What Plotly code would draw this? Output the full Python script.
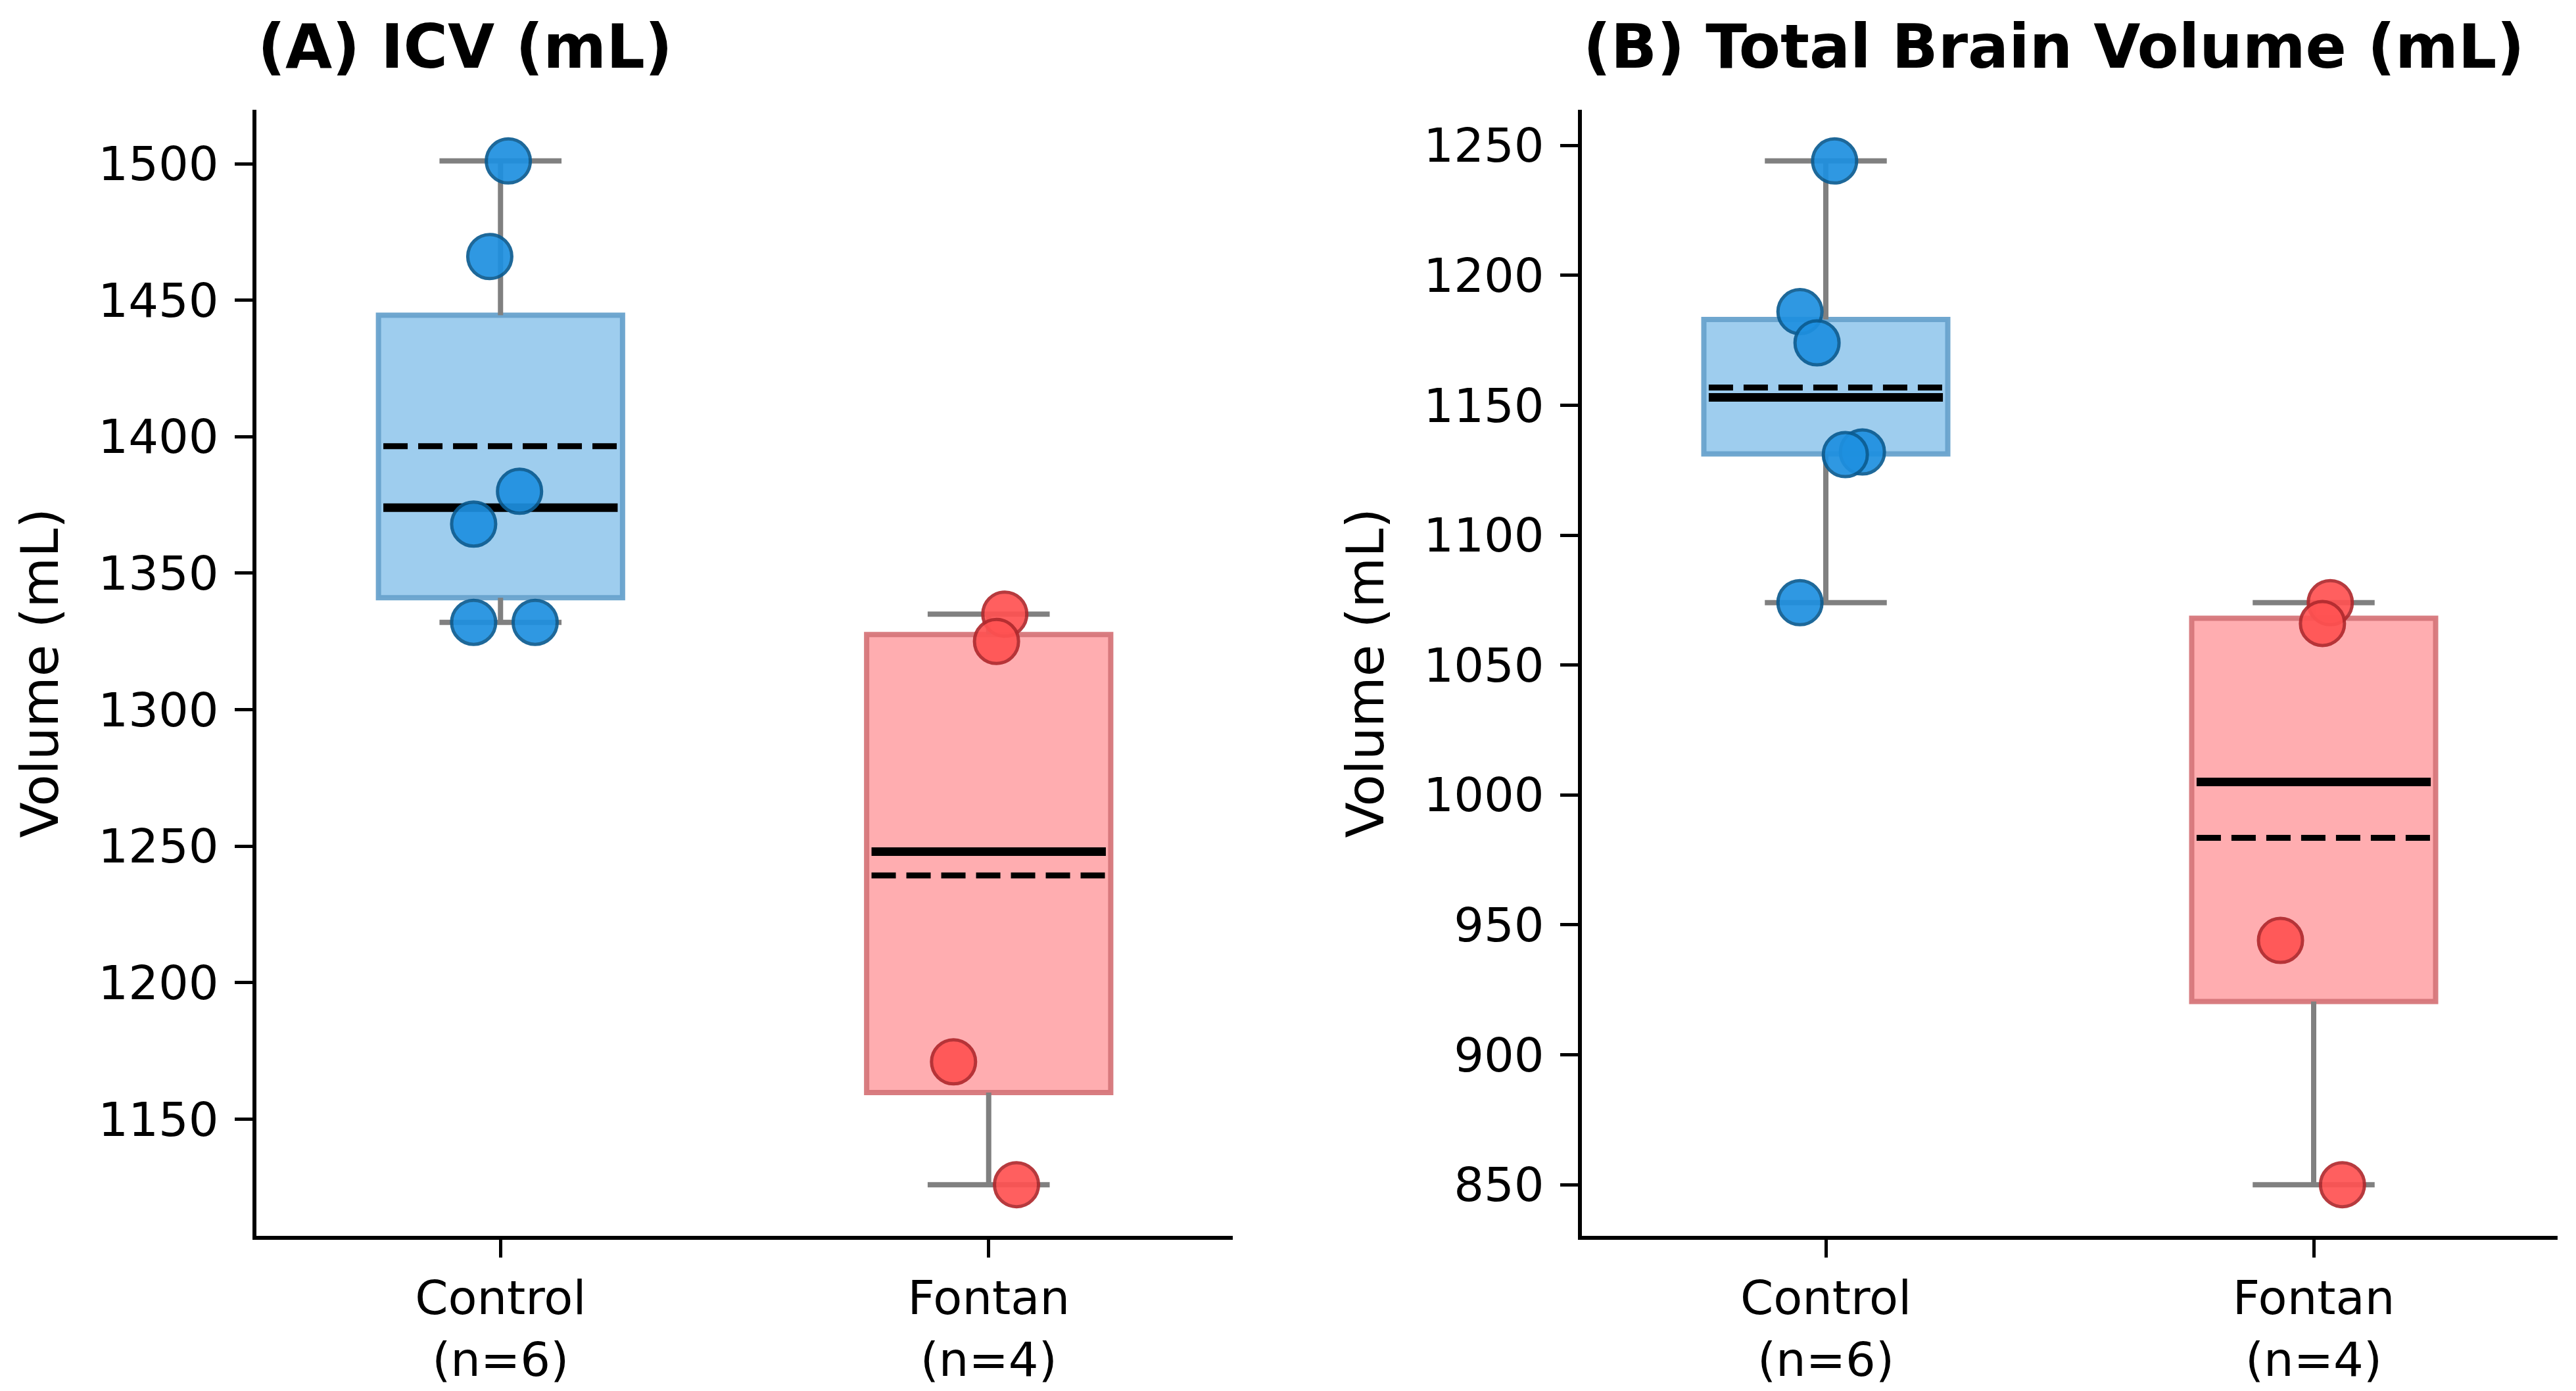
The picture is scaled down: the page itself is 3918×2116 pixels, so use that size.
import numpy as np
import plotly.graph_objects as go

# ---------------- data ----------------
groups = ["Control", "Fontan"]
group_labels = ["Control<br>(n=6)", "Fontan<br>(n=4)"]

icv_control = [1501, 1466, 1380, 1368, 1332, 1332]
icv_fontan = [1335, 1325, 1171, 1126]
tbv_control = [1244, 1186, 1174, 1132, 1131, 1074]
tbv_fontan = [1074, 1066, 944, 850]

# horizontal jitter of the individual points (category units)
icv_control_jitter = [0.016, -0.022, 0.039, -0.055, -0.055, 0.071]
icv_fontan_jitter = [0.033, 0.016, -0.072, 0.057]
tbv_control_jitter = [0.018, -0.053, -0.018, 0.075, 0.040, -0.053]
tbv_fontan_jitter = [0.034, 0.018, -0.068, 0.059]

panel_titles = ["(A) ICV (mL)", "(B) Total Brain Volume (mL)"]
y_title = "Volume (mL)"

# ---------------- styles ----------------
FONT = "DejaVu Sans"
box_fill = ["rgba(158,205,238,1)", "rgba(255,173,176,1)"]
box_edge = ["rgba(104,162,204,0.95)", "rgba(214,118,122,0.95)"]
pt_fill = ["#1E90E0", "#FF5252"]
pt_edge = ["#0B5C91", "#B02A2E"]
whisk_col = "#808080"
BOX_W = 0.5
CAP_W = 0.25

fig = go.Figure()

panels = [
    ([icv_control, icv_fontan], [icv_control_jitter, icv_fontan_jitter], "x", "y"),
    ([tbv_control, tbv_fontan], [tbv_control_jitter, tbv_fontan_jitter], "x2", "y2"),
]

yranges = []
for data, jit, xa, ya in panels:
    lo_all, hi_all = [], []
    for gi, (vals, jj) in enumerate(zip(data, jit)):
        pos = gi + 1
        v = np.array(vals, dtype=float)
        q1, med, q3 = np.percentile(v, [25, 50, 75])
        mean = v.mean()
        iqr = q3 - q1
        whi = v[v <= q3 + 1.5 * iqr].max()
        wlo = v[v >= q1 - 1.5 * iqr].min()
        lo_all.append(wlo)
        hi_all.append(whi)
        # whiskers
        for a, b in [(q3, whi), (q1, wlo)]:
            fig.add_trace(go.Scatter(x=[pos, pos], y=[a, b], mode="lines",
                                     line=dict(color=whisk_col, width=8),
                                     hoverinfo="skip", showlegend=False,
                                     xaxis=xa, yaxis=ya))
        for w in [whi, wlo]:
            fig.add_trace(go.Scatter(x=[pos - CAP_W / 2, pos + CAP_W / 2], y=[w, w],
                                     mode="lines", line=dict(color=whisk_col, width=8),
                                     hoverinfo="skip", showlegend=False,
                                     xaxis=xa, yaxis=ya))
        # box
        fig.add_trace(go.Bar(x=[pos], y=[q3 - q1], base=[q1], width=BOX_W,
                             marker=dict(color=box_fill[gi],
                                         line=dict(color=box_edge[gi], width=8)),
                             hoverinfo="skip", showlegend=False,
                             xaxis=xa, yaxis=ya))
        # median
        fig.add_trace(go.Scatter(x=[pos - BOX_W / 2 + 0.01, pos + BOX_W / 2 - 0.01],
                                 y=[med, med], mode="lines",
                                 line=dict(color="black", width=13),
                                 hoverinfo="skip", showlegend=False,
                                 xaxis=xa, yaxis=ya))
        # mean
        fig.add_trace(go.Scatter(x=[pos - BOX_W / 2 + 0.01, pos + BOX_W / 2 - 0.01],
                                 y=[mean, mean], mode="lines",
                                 line=dict(color="black", width=9, dash="37px,16px"),
                                 hoverinfo="skip", showlegend=False,
                                 xaxis=xa, yaxis=ya))
        # points
        fig.add_trace(go.Scatter(x=[pos + j for j in jj], y=vals, mode="markers",
                                 marker=dict(size=67, color=pt_fill[gi], opacity=0.92,
                                             line=dict(color=pt_edge[gi], width=5)),
                                 showlegend=False, xaxis=xa, yaxis=ya))
    lo, hi = min(lo_all), max(hi_all)
    pad = 0.05 * (hi - lo)
    yranges.append([lo - pad, hi + pad])

W, H = 3918, 2116
xdomA = [390 / W, 1875 / W]
xdomB = [2406 / W, 3890 / W]
ydom = [1 - 1880 / H, 1 - 167 / H]

axis_common = dict(showline=True, linecolor="black", linewidth=6, mirror=False,
                   showgrid=False, zeroline=False, ticks="outside", ticklen=27,
                   tickwidth=5, tickcolor="black",
                   tickfont=dict(family=FONT, size=72, color="black"))

xcommon = dict(axis_common, range=[0.5, 2.5], tickvals=[1, 2], ticktext=group_labels)
ycommon = dict(axis_common, dtick=50, ticklabelstandoff=10)

fig.update_layout(
    width=W, height=H,
    margin=dict(l=0, r=0, t=0, b=0),
    paper_bgcolor="white", plot_bgcolor="white",
    barmode="overlay",
    font=dict(family=FONT, color="black"),
    xaxis=dict(xcommon, domain=xdomA, anchor="y"),
    yaxis=dict(ycommon, domain=ydom, anchor="x", range=yranges[0]),
    xaxis2=dict(xcommon, domain=xdomB, anchor="y2"),
    yaxis2=dict(ycommon, domain=ydom, anchor="x2", range=yranges[1]),
)

annotations = []
for i, (xa, xd) in enumerate([("x", xdomA), ("x2", xdomB)]):
    annotations.append(dict(text="<b>" + panel_titles[i] + "</b>", xref=xa + " domain",
                            yref="paper", x=0, y=1 - 72 / H, xanchor="left",
                            yanchor="middle", showarrow=False,
                            font=dict(family=FONT, size=92, color="black")))
    annotations.append(dict(text=y_title, xref="paper", yref="paper",
                            x=xd[0] - 330 / W, y=(ydom[0] + ydom[1]) / 2,
                            xanchor="center", yanchor="middle", textangle=-90,
                            showarrow=False,
                            font=dict(family=FONT, size=79, color="black")))
fig.update_layout(annotations=annotations)

fig.write_html("out.html")
